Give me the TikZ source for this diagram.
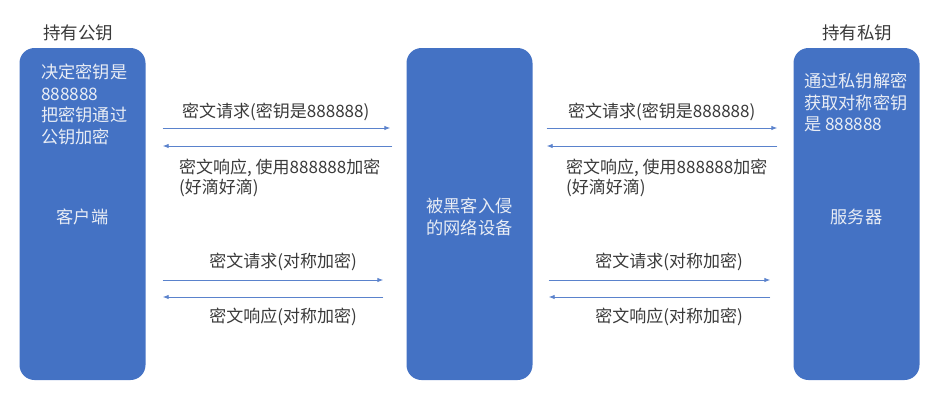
\documentclass[tikz,border=0pt]{standalone}
\usepackage{xcolor}
\usepackage{fontspec}
\setmainfont{Noto Sans CJK SC}
\usepackage{tikz}
\usetikzlibrary{positioning,shapes,arrows.meta}
\definecolor{boxblue}{HTML}{4472C4}
\definecolor{lineblue}{HTML}{5A82CC}
\definecolor{labelgray}{HTML}{3A3A3A}
\definecolor{boxtext}{HTML}{E9EDF5}

\begin{document}
\begin{tikzpicture}[x=1pt,y=-1pt,
  hostbox/.style={fill=boxblue,draw=none,rounded corners=15pt,minimum width=126pt,minimum height=332pt,inner sep=0pt},
  intext/.style={text=boxtext,font=\fontsize{17.2}{21.5}\selectfont,inner sep=0pt},
  label/.style={text=labelgray,font=\fontsize{17}{20}\selectfont,inner sep=0pt},
  msg/.style={draw=lineblue,line width=0.9pt,-{Latex[length=6pt,width=4.5pt]}}]
\useasboundingbox (0,0) rectangle (938,400);
\node[hostbox] (client) at (82.5,214) {};
\node[hostbox] (hacker) at (469.5,214) {};
\node[hostbox] (server) at (856.5,214) {};
\node[label,font=\fontsize{17.5}{20}\selectfont] (pubkey) at (78,33) {持有公钥};
\node[label,font=\fontsize{17.5}{20}\selectfont] (privkey) at (857,33) {持有私钥};
\node[intext,align=left,anchor=north west] (clientnote) at (41,64) {决定密钥是\\888888\\把密钥通过\\公钥加密};
\node[intext] (clientname) at (82.5,217) {客户端};
\node[intext,align=center] (hackername) at (469.5,217) {被黑客入侵\\的网络设备};
\node[intext,align=left,anchor=north west] (servernote) at (804,73) {通过私钥解密\\获取对称密钥\\是 888888};
\node[intext] (servername) at (856.5,217) {服务器};
%
\node[label,anchor=west] (reqa) at (182,112) {密文请求(密钥是888888)};
\node[label,align=left,anchor=north west] (respa) at (179,159) {密文响应, 使用888888加密\\(好滴好滴)};
\node[label] (reqb) at (283,262) {密文请求(对称加密)};
\node[label] (respb) at (283,317) {密文响应(对称加密)};
\node[label,anchor=west] (reqc) at (568,112) {密文请求(密钥是888888)};
\node[label,align=left,anchor=north west] (respc) at (566,159) {密文响应, 使用888888加密\\(好滴好滴)};
\node[label] (reqd) at (669,262) {密文请求(对称加密)};
\node[label] (respd) at (669,317) {密文响应(对称加密)};
%
\draw[msg,shorten <=17pt,shorten >=16pt] ([yshift=86pt]client.east) -- ([yshift=86pt]hacker.west);
\draw[msg,shorten <=14pt,shorten >=17pt] ([yshift=68pt]hacker.west) -- ([yshift=68pt]client.east);
\draw[msg,shorten <=17pt,shorten >=23pt] ([yshift=-66pt]client.east) -- ([yshift=-66pt]hacker.west);
\draw[msg,shorten <=23pt,shorten >=17pt] ([yshift=-83pt]hacker.west) -- ([yshift=-83pt]client.east);
\draw[msg,shorten <=14pt,shorten >=16pt] ([yshift=86pt]hacker.east) -- ([yshift=86pt]server.west);
\draw[msg,shorten <=16pt,shorten >=14pt] ([yshift=68pt]server.west) -- ([yshift=68pt]hacker.east);
\draw[msg,shorten <=16pt,shorten >=23pt] ([yshift=-66pt]hacker.east) -- ([yshift=-66pt]server.west);
\draw[msg,shorten <=23pt,shorten >=16pt] ([yshift=-83pt]server.west) -- ([yshift=-83pt]hacker.east);
\end{tikzpicture}
\end{document}
